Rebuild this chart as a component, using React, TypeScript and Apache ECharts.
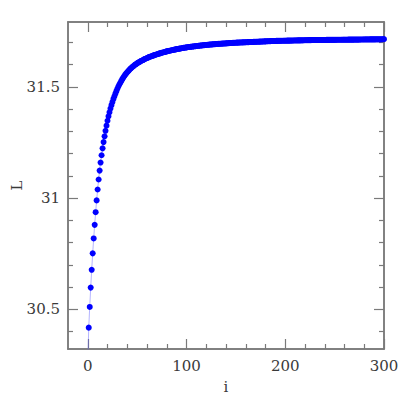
import React, { useEffect, useRef } from "react";
import * as echarts from "echarts";

const X_MIN = -20;
const X_MAX = 300;
const Y_MIN = 30.322;
const Y_MAX = 31.792;

const xMajorTicks = [0, 100, 200, 300];
const xMinorTicks = [20, 40, 60, 80, 120, 140, 160, 180, 220, 240, 260, 280];
const yMajorTicks = [30.5, 31, 31.5];
const yMinorTicks = [30.4, 30.6, 30.7, 30.8, 30.9, 31.1, 31.2, 31.3, 31.4, 31.6, 31.7];

// L value for each iteration i = 0 .. 300
const lValues = [
  30.25, 30.418, 30.511, 30.598, 30.678, 30.752, 30.819, 30.880, 30.937, 30.990,
  31.039, 31.084, 31.124, 31.160, 31.193, 31.224, 31.252, 31.278, 31.303, 31.326,
  31.348, 31.368, 31.386, 31.403, 31.418, 31.432, 31.446, 31.458, 31.470, 31.481,
  31.492, 31.502, 31.511, 31.519, 31.527, 31.535, 31.542, 31.549, 31.555, 31.561,
  31.566, 31.571, 31.576, 31.581, 31.585, 31.589, 31.593, 31.596, 31.600, 31.603,
  31.606, 31.609, 31.612, 31.614, 31.617, 31.619, 31.621, 31.624, 31.626, 31.628,
  31.630, 31.632, 31.634, 31.636, 31.637, 31.639, 31.641, 31.642, 31.644, 31.645,
  31.647, 31.648, 31.650, 31.651, 31.652, 31.654, 31.655, 31.656, 31.657, 31.659,
  31.660, 31.661, 31.662, 31.663, 31.664, 31.665, 31.666, 31.667, 31.668, 31.669,
  31.670, 31.6708, 31.6716, 31.6724, 31.6732, 31.674, 31.6748, 31.6756, 31.6764, 31.6772,
  31.678, 31.6786, 31.6792, 31.6798, 31.6804, 31.681, 31.6816, 31.6822, 31.6828, 31.6834,
  31.684, 31.6845, 31.685, 31.6855, 31.686, 31.6865, 31.687, 31.6875, 31.688, 31.6885,
  31.689, 31.6894, 31.6898, 31.6902, 31.6906, 31.691, 31.6914, 31.6918, 31.6922, 31.6926,
  31.693, 31.6933, 31.6936, 31.6939, 31.6942, 31.6945, 31.6948, 31.6951, 31.6954, 31.6957,
  31.696, 31.6963, 31.6966, 31.6969, 31.6972, 31.6975, 31.6978, 31.6981, 31.6984, 31.6987,
  31.699, 31.6992, 31.6994, 31.6996, 31.6998, 31.700, 31.7002, 31.7004, 31.7006, 31.7008,
  31.701, 31.7012, 31.7014, 31.7016, 31.7018, 31.702, 31.7022, 31.7024, 31.7026, 31.7028,
  31.703, 31.7032, 31.7034, 31.7036, 31.7038, 31.704, 31.7042, 31.7044, 31.7046, 31.7048,
  31.705, 31.7052, 31.7054, 31.7056, 31.7058, 31.706, 31.7062, 31.7064, 31.7066, 31.7068,
  31.707, 31.7071, 31.7072, 31.7073, 31.7074, 31.7075, 31.7076, 31.7077, 31.7078, 31.7079,
  31.708, 31.7081, 31.7082, 31.7083, 31.7084, 31.7085, 31.7086, 31.7087, 31.7088, 31.7089,
  31.709, 31.7091, 31.7092, 31.7093, 31.7094, 31.7095, 31.7096, 31.7097, 31.7098, 31.7099,
  31.710, 31.7101, 31.7102, 31.7103, 31.7104, 31.7105, 31.7106, 31.7107, 31.7108, 31.7109,
  31.711, 31.711, 31.7111, 31.7111, 31.7112, 31.7112, 31.7113, 31.7113, 31.7114, 31.7114,
  31.7115, 31.7115, 31.7116, 31.7116, 31.7117, 31.7117, 31.7118, 31.7118, 31.7119, 31.7119,
  31.712, 31.712, 31.7121, 31.7121, 31.7122, 31.7122, 31.7123, 31.7123, 31.7124, 31.7124,
  31.7125, 31.7125, 31.7126, 31.7126, 31.7127, 31.7127, 31.7128, 31.7128, 31.7129, 31.7129,
  31.713, 31.713, 31.7131, 31.7131, 31.7132, 31.7132, 31.7133, 31.7133, 31.7134, 31.7134,
  31.7135, 31.7135, 31.7136, 31.7136, 31.7137, 31.7137, 31.7138, 31.7138, 31.7139, 31.7139,
  31.714, 31.714, 31.7141, 31.7141, 31.7142, 31.7142, 31.7143, 31.7143, 31.7144, 31.7144,
  31.715,
];

const AXIS_COLOR = "#7a7a7a";
const TEXT_COLOR = "#3a3a3a";
const FONT = "DejaVu Serif";

function xAxisDef(position: string, ticks: number[], len: number, labels: boolean, name?: string) {
  return {
    type: "value",
    position,
    min: X_MIN,
    max: X_MAX,
    name: name || "",
    nameLocation: "middle",
    nameGap: 30,
    nameTextStyle: { fontFamily: FONT, fontSize: 15, color: TEXT_COLOR },
    axisLine: { show: true, onZero: false, lineStyle: { color: AXIS_COLOR, width: 1.5 } },
    axisTick: {
      show: true,
      inside: true,
      length: len,
      customValues: ticks,
      lineStyle: { color: AXIS_COLOR, width: 1.2 },
    },
    axisLabel: labels
      ? {
          show: true,
          customValues: ticks,
          margin: 9,
          fontFamily: FONT,
          fontSize: 15,
          color: TEXT_COLOR,
        }
      : { show: false },
    splitLine: { show: false },
  };
}

function yAxisDef(position: string, ticks: number[], len: number, labels: boolean, name?: string) {
  return {
    type: "value",
    position,
    min: Y_MIN,
    max: Y_MAX,
    name: name || "",
    nameLocation: "middle",
    nameRotate: 90,
    nameGap: 44,
    nameMoveOverlap: false,
    nameTextStyle: { fontFamily: FONT, fontSize: 15, color: TEXT_COLOR },
    axisLine: { show: true, onZero: false, lineStyle: { color: AXIS_COLOR, width: 1.5 } },
    axisTick: {
      show: true,
      inside: true,
      length: len,
      customValues: ticks,
      lineStyle: { color: AXIS_COLOR, width: 1.2 },
    },
    axisLabel: labels
      ? {
          show: true,
          customValues: ticks,
          margin: 8,
          fontFamily: FONT,
          fontSize: 15,
          color: TEXT_COLOR,
          formatter: (v: number) => String(v),
        }
      : { show: false },
    splitLine: { show: false },
  };
}

export default function App() {
  const ref = useRef<HTMLDivElement | null>(null);

  useEffect(() => {
    if (!ref.current) return;
    const chart = echarts.init(ref.current, undefined, { renderer: "svg" });
    const points = lValues.map((v, i) => [i, v]);
    chart.setOption({
      animation: false,
      backgroundColor: "#ffffff",
      grid: {
        left: 68,
        right: 21,
        top: 22,
        bottom: 56,
        containLabel: false,
        outerBoundsMode: "none",
      },
      xAxis: [
        xAxisDef("bottom", xMajorTicks, 10, true, "i"),
        xAxisDef("bottom", xMinorTicks, 5, false),
        xAxisDef("top", xMajorTicks, 10, false),
        xAxisDef("top", xMinorTicks, 5, false),
      ],
      yAxis: [
        yAxisDef("left", yMajorTicks, 10, true, "L"),
        yAxisDef("left", yMinorTicks, 5, false),
        yAxisDef("right", yMajorTicks, 10, false),
        yAxisDef("right", yMinorTicks, 5, false),
      ],
      series: [
        {
          type: "line",
          xAxisIndex: 0,
          yAxisIndex: 0,
          data: points,
          clip: true,
          symbol: "circle",
          symbolSize: 6,
          showSymbol: true,
          showAllSymbol: true,
          itemStyle: { color: "#0000ff" },
          lineStyle: { color: "rgba(90,90,255,0.45)", width: 1 },
          emphasis: { disabled: true },
        },
      ],
    });
    return () => chart.dispose();
  }, []);

  return (
    <div
      ref={ref}
      style={{ position: "fixed", left: 0, top: 0, width: 405, height: 405, background: "#fff" }}
    />
  );
}
